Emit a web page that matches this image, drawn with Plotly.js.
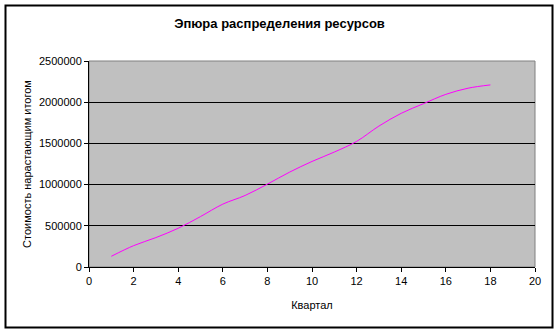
<!DOCTYPE html>
<html>
<head>
<meta charset="utf-8">
<script src="https://cdn.plot.ly/plotly-3.0.1.min.js"></script>
<style>
  html, body { margin: 0; padding: 0; background: #fff; }
  #chart { width: 559px; height: 332px; }
</style>
</head>
<body>
<div id="chart"></div>
<script>
// Data
const quarters = [1, 2, 3, 4, 5, 6, 7, 8, 9, 10, 11, 12, 13, 14, 15, 16, 17, 18];
const cumulativeCost = [130000, 259000, 357000, 470000, 612000, 763000, 868000, 1006000, 1152000,
                        1281000, 1395000, 1524000, 1710000, 1865000, 1982000, 2095000, 2170000, 2210000];
const xTickValues = [0, 2, 4, 6, 8, 10, 12, 14, 16, 18, 20];
const yTickValues = [0, 500000, 1000000, 1500000, 2000000, 2500000];

const chartTitle = 'Эпюра распределения ресурсов';
const xTitle = 'Квартал';
const yTitle = 'Стоимость нарастающим итогом';

const font = 'Liberation Sans, Arial, sans-serif';

const trace = {
  x: quarters,
  y: cumulativeCost,
  type: 'scatter',
  mode: 'lines',
  line: { color: '#FF00FF', width: 1, shape: 'spline', smoothing: 1 },
  hoverinfo: 'x+y'
};

const layout = {
  width: 559,
  height: 332,
  margin: { l: 89, r: 24, t: 61, b: 65, pad: 0 },
  paper_bgcolor: '#FFFFFF',
  plot_bgcolor: '#C0C0C0',
  showlegend: false,
  font: { family: font, size: 11, color: '#000' },
  title: {
    text: '<b>' + chartTitle + '</b>',
    font: { family: font, size: 13, color: '#000' },
    x: 0.5, xref: 'container', xanchor: 'center',
    y: 1 - 23 / 332, yref: 'container', yanchor: 'middle'
  },
  xaxis: {
    range: [0, 20],
    tickvals: xTickValues,
    ticktext: xTickValues.map(String),
    showgrid: false,
    zeroline: false,
    showline: true, linecolor: '#000', linewidth: 1,
    ticks: 'outside', ticklen: 4, tickcolor: '#000', tickwidth: 1,
    tickfont: { family: font, size: 11, color: '#000' },
    title: { text: xTitle, font: { family: font, size: 11, color: '#000' }, standoff: 15 },
    fixedrange: true
  },
  yaxis: {
    range: [0, 2500000],
    tickvals: yTickValues,
    ticktext: yTickValues.map(String),
    showgrid: true, gridcolor: '#000', gridwidth: 1,
    zeroline: false,
    showline: true, linecolor: '#000', linewidth: 1,
    ticks: 'outside', ticklen: 4, tickcolor: '#000', tickwidth: 1,
    tickfont: { family: font, size: 11, color: '#000' },
    title: { text: yTitle, font: { family: font, size: 11, color: '#000' }, standoff: 5 },
    fixedrange: true
  },
  shapes: [
    {
      type: 'rect', xref: 'paper', yref: 'paper',
      x0: 0, x1: 1, y0: 0, y1: 1,
      line: { color: '#808080', width: 1 },
      fillcolor: 'rgba(0,0,0,0)', layer: 'below'
    },
    {
      type: 'rect', xref: 'paper', yref: 'paper',
      x0: (5.5 - 89) / 446, x1: (552.5 - 89) / 446,
      y0: (267 - 327.5) / 206, y1: (267 - 5.5) / 206,
      line: { color: '#000', width: 2 },
      fillcolor: 'rgba(0,0,0,0)', layer: 'above'
    }
  ]
};

Plotly.newPlot('chart', [trace], layout, { displayModeBar: false, staticPlot: true });
</script>
</body>
</html>
